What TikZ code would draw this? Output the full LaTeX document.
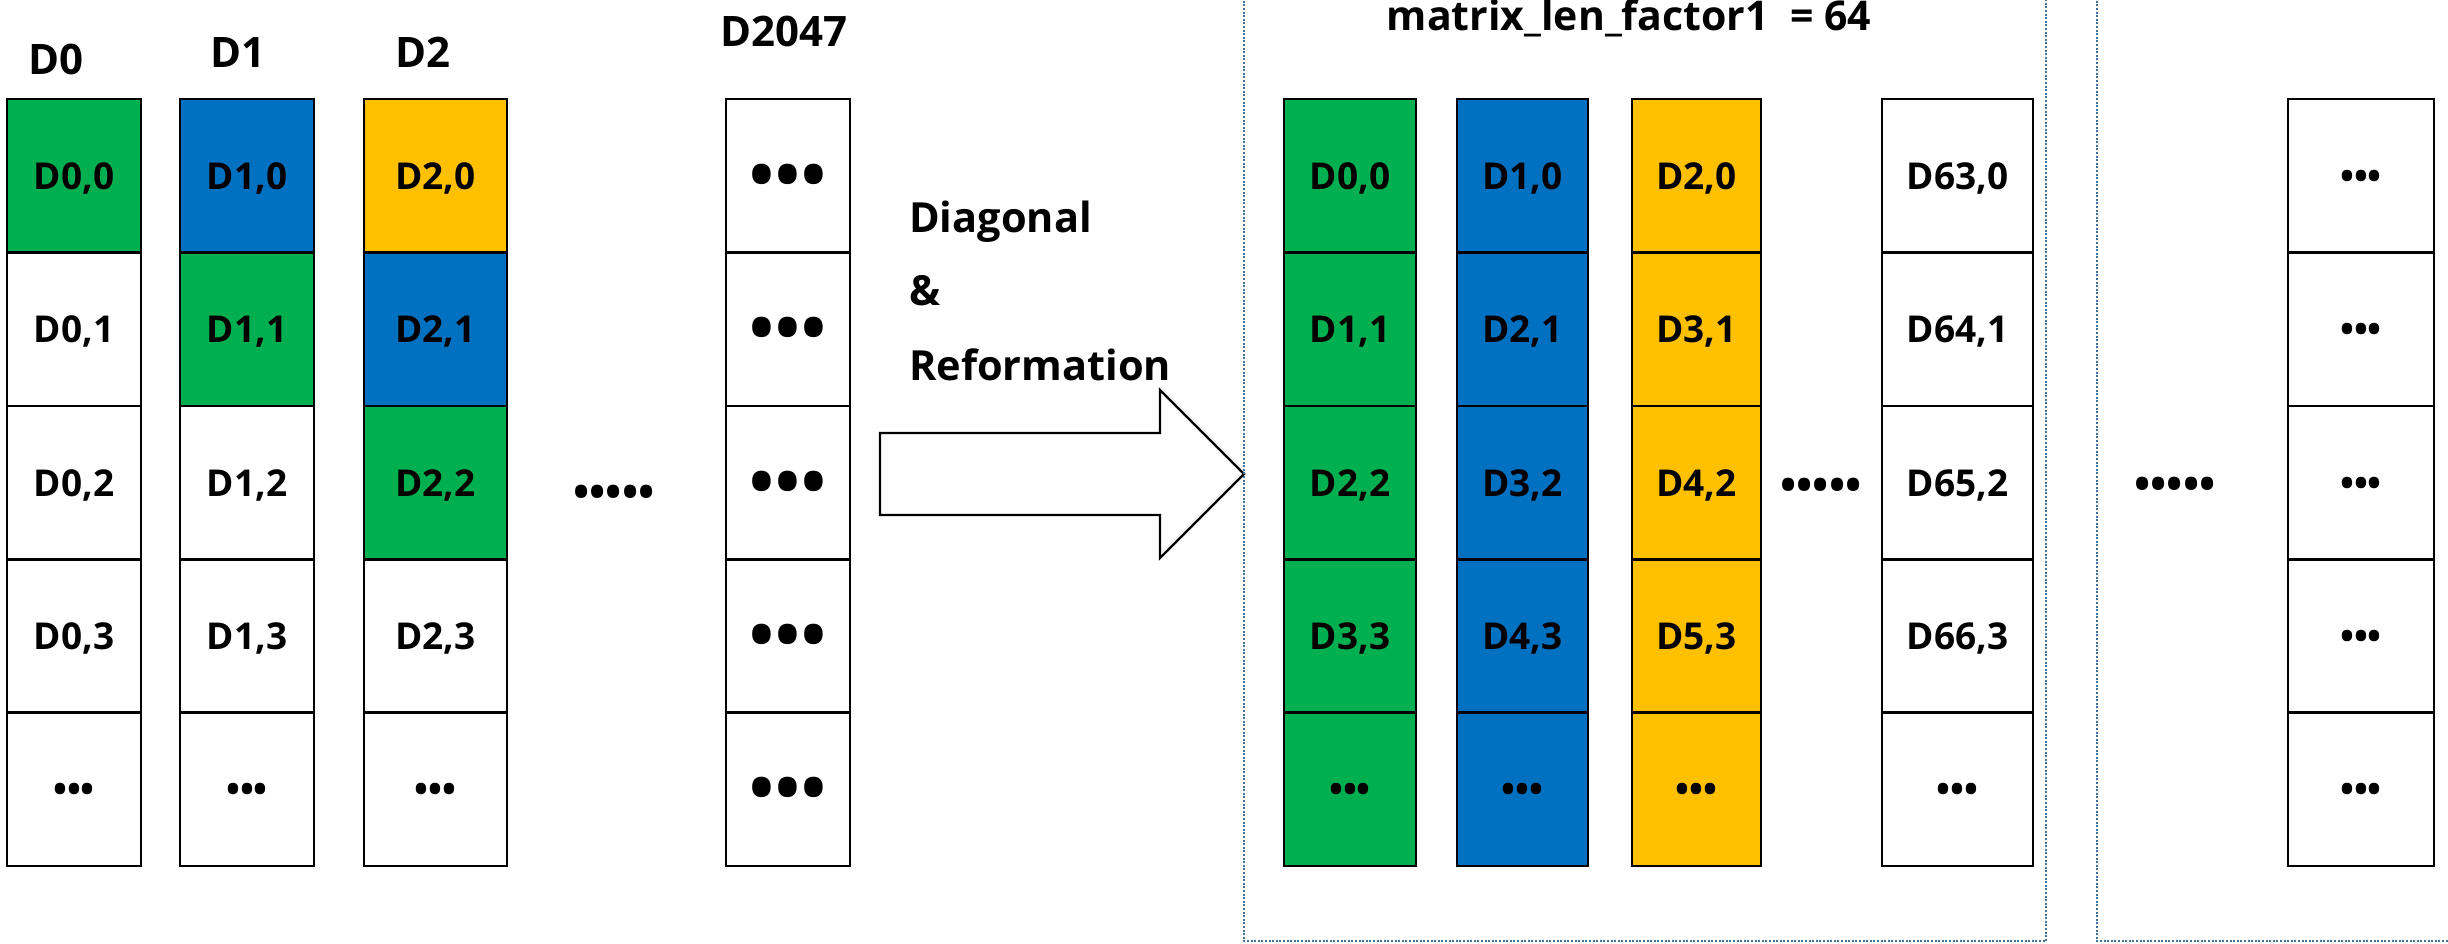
\documentclass[tikz,border=0pt]{standalone}
\usepackage{fontspec}
\setmainfont{Open Sans}
\definecolor{cgreen}{HTML}{00B050}
\definecolor{cblue}{HTML}{0070C0}
\definecolor{cyellow}{HTML}{FFC000}
\definecolor{framecol}{HTML}{41719C}
\tikzset{
  cell/.style={draw=black, line width=2.6pt, minimum height=153.4pt, inner sep=0pt,
    font=\fontsize{37}{40}\selectfont\bfseries, text height=27pt, text depth=0pt},
  collabel/.style={anchor=base, inner sep=0pt, font=\fontsize{42}{45}\selectfont\bfseries},
  steptext/.style={anchor=base west, inner sep=0pt, font=\fontsize{41.5}{44}\selectfont\bfseries},
  gapdots/.style={inner sep=0pt, font=\fontsize{43}{45}\selectfont\bfseries},
  groupframe/.style={draw=framecol, line width=2pt, dash pattern=on 2pt off 1.6pt},
  blockarrow/.style={draw=black, line width=2.4pt, fill=white, line join=miter},
}
\newcommand{\sdots}{{\fontsize{37}{37}\selectfont •••}}
\newcommand{\bdots}{\raisebox{-9pt}{\fontsize{66}{66}\selectfont •\kern1pt•\kern1pt•}}
\begin{document}
\begin{tikzpicture}[x=1pt, y=-1pt]
\useasboundingbox (0,0) rectangle (2448,944);
\clip (0,0) rectangle (2448,944);

% source columns
\foreach \r/\t/\f in {0/{D0,0}/cgreen, 1/{D0,1}/white, 2/{D0,2}/white, 3/{D0,3}/white, 4/\sdots/white}
  \node[cell, minimum width=134pt, fill=\f] (a\r) at (74, {99+153.4*(\r+0.5)}) {\t};
\foreach \r/\t/\f in {0/{D1,0}/cblue, 1/{D1,1}/cgreen, 2/{D1,2}/white, 3/{D1,3}/white, 4/\sdots/white}
  \node[cell, minimum width=134pt, fill=\f] (b\r) at (247, {99+153.4*(\r+0.5)}) {\t};
\foreach \r/\t/\f in {0/{D2,0}/cyellow, 1/{D2,1}/cblue, 2/{D2,2}/cgreen, 3/{D2,3}/white, 4/\sdots/white}
  \node[cell, minimum width=143pt, fill=\f] (c\r) at (435.5, {99+153.4*(\r+0.5)}) {\t};
\foreach \r in {0,...,4}
  \node[cell, minimum width=124pt, fill=white] (z\r) at (788, {99+153.4*(\r+0.5)}) {\bdots};

\node[collabel] (la) at (56,75) {D0};
\node[collabel] (lb) at (238,68) {D1};
\node[collabel] (lc) at (423,68) {D2};
\node[collabel] (lz) at (784,47) {D2047};
\node[gapdots] (gap1) at (614,496) {•••••};

% transformation arrow
\draw[blockarrow] (880,433) -- (1160,433) -- (1160,390) -- (1244,474)
  -- (1160,558) -- (1160,515) -- (880,515) -- cycle;
\node[steptext] (t1) at (909,233) {Diagonal};
\node[steptext] (t2) at (909,305) {\&};
\node[steptext] (t3) at (909,380) {Reformation};

% reformed groups
\draw[groupframe] (1244,-10) rectangle (2046,941);
\draw[groupframe] (2097,-10) rectangle (2470,941);
\node[anchor=base, inner sep=0pt, font=\fontsize{41}{43}\selectfont\bfseries] (title) at (1629,31) {matrix\_len\_factor1~~=~64};

\foreach \r/\t in {0/{D0,0}, 1/{D1,1}, 2/{D2,2}, 3/{D3,3}, 4/\sdots}
  \node[cell, minimum width=132pt, fill=cgreen] (p\r) at (1350, {99+153.4*(\r+0.5)}) {\t};
\foreach \r/\t in {0/{D1,0}, 1/{D2,1}, 2/{D3,2}, 3/{D4,3}, 4/\sdots}
  \node[cell, minimum width=131pt, fill=cblue] (q\r) at (1522.5, {99+153.4*(\r+0.5)}) {\t};
\foreach \r/\t in {0/{D2,0}, 1/{D3,1}, 2/{D4,2}, 3/{D5,3}, 4/\sdots}
  \node[cell, minimum width=129pt, fill=cyellow] (r\r) at (1696.5, {99+153.4*(\r+0.5)}) {\t};
\foreach \r/\t in {0/{D63,0}, 1/{D64,1}, 2/{D65,2}, 3/{D66,3}, 4/\sdots}
  \node[cell, minimum width=151pt, fill=white] (s\r) at (1957.5, {99+153.4*(\r+0.5)}) {\t};
\node[gapdots] (gap2) at (1821,489) {•••••};

\node[gapdots] (gap3) at (2175,488) {•••••};
\foreach \r in {0,...,4}
  \node[cell, minimum width=146pt, fill=white] (u\r) at (2361, {99+153.4*(\r+0.5)}) {\sdots};
\end{tikzpicture}
\end{document}
